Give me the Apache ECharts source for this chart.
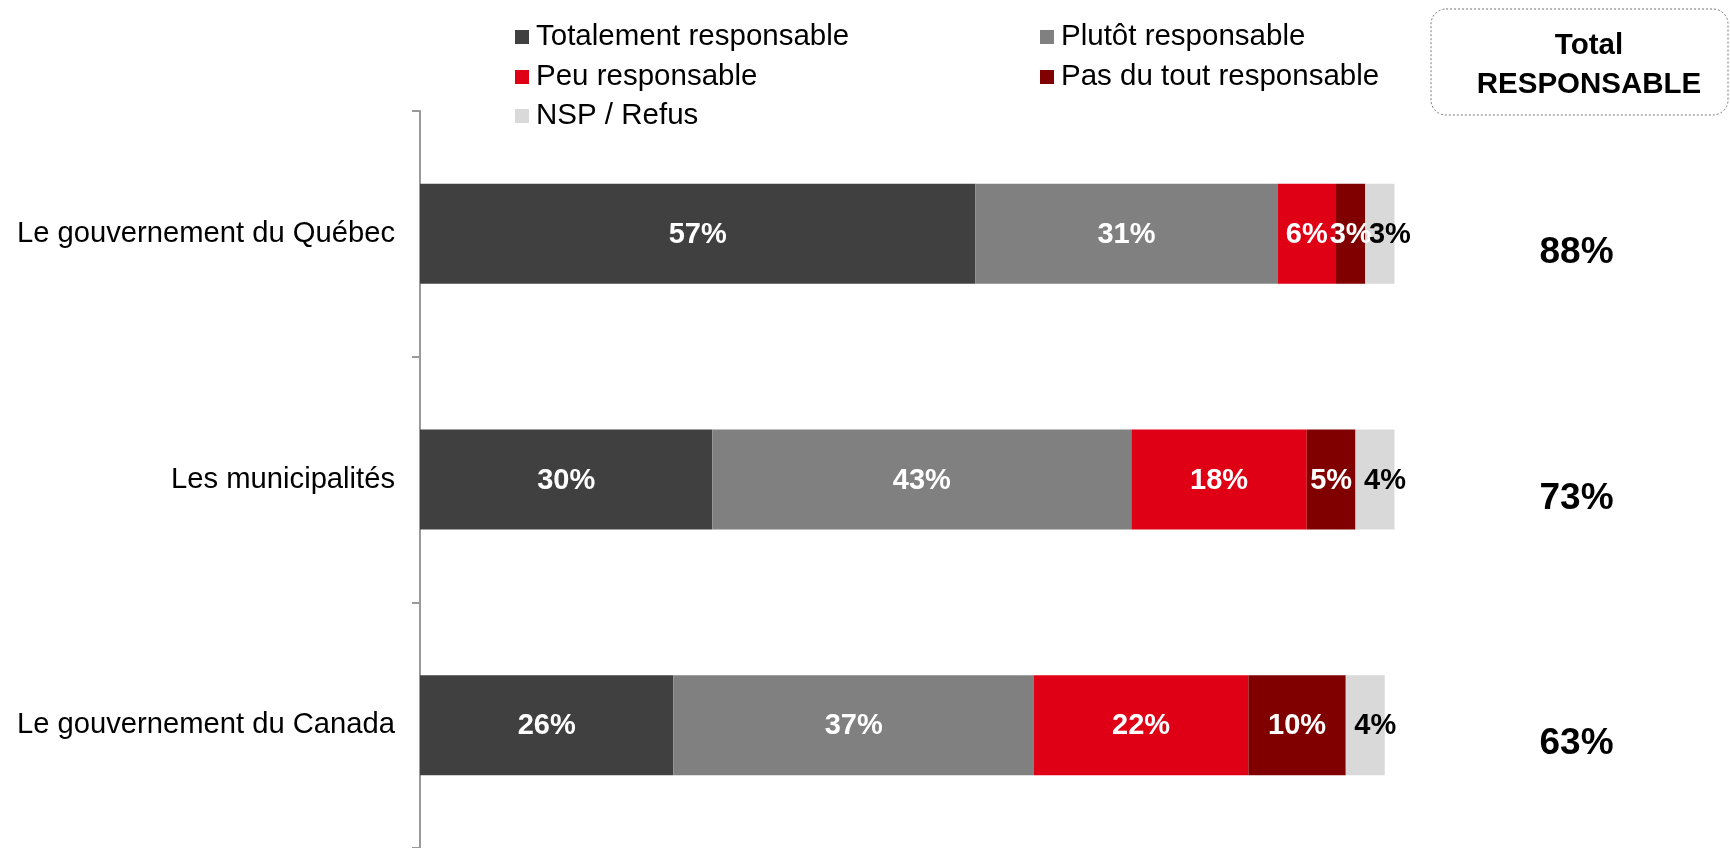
<!DOCTYPE html>
<html>
<head>
<meta charset="utf-8">
<script src="https://cdn.jsdelivr.net/npm/echarts@6/dist/echarts.min.js"></script>
<style>
  html, body { margin: 0; padding: 0; background: #fff; }
  #chart { width: 1730px; height: 848px; }
</style>
</head>
<body>
<div id="chart"></div>
<script>
// Organismes évalués (du haut vers le bas)
const categories = ['Le gouvernement du Québec', 'Les municipalités', 'Le gouvernement du Canada'];

// Répartition des réponses (%)
const totalement = [57, 30, 26];
const plutot = [31, 43, 37];
const peu = [6, 18, 22];
const pasDuTout = [3, 5, 10];
const nsp = [3, 4, 4];

// Total responsable (%)
const totalResponsable = [88, 73, 63];

const seriesNames = ['Totalement responsable', 'Plutôt responsable', 'Peu responsable', 'Pas du tout responsable', 'NSP / Refus'];
const seriesValues = [totalement, plutot, peu, pasDuTout, nsp];
const seriesColors = ['#404040', '#808080', '#E00016', '#800000', '#D9D9D9'];
const labelColors = ['#fff', '#fff', '#fff', '#fff', '#000'];

const FONT = 'Liberation Sans, Arial, sans-serif';

const chart = echarts.init(document.getElementById('chart'), null, { renderer: 'canvas' });

const barSeries = seriesNames.map((name, i) => ({
  name: name,
  type: 'bar',
  stack: 'total',
  xAxisIndex: 0,
  yAxisIndex: 0,
  barWidth: 100,
  itemStyle: { color: seriesColors[i] },
  label: {
    show: true,
    position: 'inside',
    offset: i === 4 ? [10, 1] : [0, 1],
    color: labelColors[i],
    fontFamily: FONT,
    fontWeight: 'bold',
    fontSize: 29,
    formatter: p => p.value + '%'
  },
  data: seriesValues[i]
}));

// Legend layout: two columns, three rows
const legendPos = [
  { left: 515, top: 22 },
  { left: 1040, top: 22 },
  { left: 515, top: 62 },
  { left: 1040, top: 62 },
  { left: 515, top: 101 }
];

const legends = seriesNames.map((name, i) => ({
  data: [name],
  left: legendPos[i].left,
  top: legendPos[i].top,
  padding: 0,
  icon: 'rect',
  itemWidth: 14,
  itemHeight: 14,
  selectedMode: false,
  textStyle: { fontFamily: FONT, fontSize: 29.5, color: '#000', padding: [0, 0, 0, 2] }
}));

const option = {
  animation: false,
  backgroundColor: '#fff',
  legend: legends,
  grid: [
    { left: 420, top: 111, width: 974.5, height: 740 },
    { left: 1428, top: 111, width: 297, height: 740 }
  ],
  xAxis: [
    { gridIndex: 0, type: 'value', min: 0, max: 100, show: false },
    { gridIndex: 1, type: 'value', min: 0, max: 1, show: false }
  ],
  yAxis: [
    {
      gridIndex: 0,
      type: 'category',
      inverse: true,
      data: categories,
      axisLine: { show: true, lineStyle: { color: '#9a9a9a', width: 2 } },
      axisTick: { show: true, length: 8, lineStyle: { color: '#9a9a9a', width: 2 } },
      axisLabel: { fontFamily: FONT, fontSize: 29.2, color: '#000', margin: 25, lineHeight: 29, padding: [12, 0, 0, 0] },
      splitLine: { show: false }
    },
    {
      gridIndex: 1,
      type: 'category',
      inverse: true,
      data: categories,
      show: false
    }
  ],
  graphic: [
    {
      type: 'rect',
      shape: { x: 1431, y: 9, width: 297, height: 106, r: 15 },
      style: { fill: '#fff', stroke: '#777', lineWidth: 1, lineDash: [2, 2] },
      z: 10
    },
    {
      type: 'text',
      x: 1589,
      y: 46,
      style: { text: 'Total', fontFamily: FONT, fontWeight: 'bold', fontSize: 29.5, fill: '#000', textAlign: 'center', textVerticalAlign: 'middle' },
      z: 11
    },
    {
      type: 'text',
      x: 1589,
      y: 85,
      style: { text: 'RESPONSABLE', fontFamily: FONT, fontWeight: 'bold', fontSize: 29.5, fill: '#000', textAlign: 'center', textVerticalAlign: 'middle' },
      z: 11
    }
  ],
  series: barSeries.concat([
    {
      name: 'Total RESPONSABLE',
      type: 'scatter',
      xAxisIndex: 1,
      yAxisIndex: 1,
      symbolSize: 0,
      silent: true,
      itemStyle: { opacity: 1 },
      label: {
        show: true,
        position: 'inside',
        offset: [0, 19],
        fontFamily: FONT,
        fontWeight: 'bold',
        fontSize: 37,
        color: '#000',
        formatter: p => p.value[2] + '%'
      },
      data: totalResponsable.map((v, i) => [0.5, categories[i], v])
    }
  ])
};

chart.setOption(option);
</script>
</body>
</html>
